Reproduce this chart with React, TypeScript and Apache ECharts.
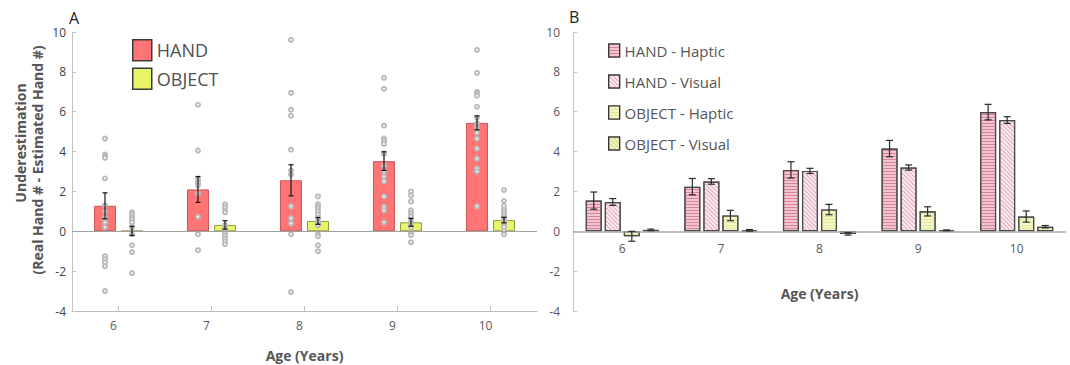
import React, { useEffect, useRef } from "react";
import * as echarts from "echarts";

// ---------- DATA ----------
const categories = ["6", "7", "8", "9", "10"];

// Panel A means and SEM
const handA = [1.28, 2.1, 2.56, 3.52, 5.44];
const handAErr = [0.65, 0.65, 0.78, 0.47, 0.35];
const objectA = [0.02, 0.32, 0.52, 0.45, 0.56];
const objectAErr = [0.23, 0.21, 0.17, 0.2, 0.14];

// Panel A individual participants
const handPoints6 = [4.65, 3.85, 3.78, 3.68, 2.65, 1.3, 1.0, 0.7, 0.45, 0.2, -1.25, -1.4, -1.55, -1.75, -3.0];
const handPoints7 = [6.35, 4.05, 2.6, 2.45, 2.3, 1.9, 0.73, -0.15, -0.95];
const handPoints8 = [9.6, 6.95, 6.1, 5.8, 4.1, 3.05, 2.85, 1.25, 0.65, 0.4, -0.15, -3.05];
const handPoints9 = [7.7, 7.15, 5.3, 4.65, 4.52, 4.38, 3.9, 3.3, 3.0, 2.75, 2.5, 1.75, 1.23, 1.05, 0.45];
const handPoints10 = [9.1, 7.95, 7.0, 6.9, 6.8, 6.25, 5.7, 5.4, 5.2, 4.95, 4.65, 4.15, 3.65, 3.15, 3.0, 1.25];
const objectPoints6 = [0.95, 0.85, 0.7, 0.6, 0.45, 0.2, -0.15, -0.7, -1.05, -2.1];
const objectPoints7 = [1.35, 1.2, 1.05, 0.95, 0.3, 0.1, -0.05, -0.2, -0.35, -0.5, -0.65];
const objectPoints8 = [1.75, 1.35, 1.25, 1.15, 1.0, 0.85, 0.65, 0.45, 0.3, -0.15, -0.25, -0.7, -1.0];
const objectPoints9 = [2.0, 1.8, 1.5, 1.05, 0.9, 0.75, 0.55, 0.35, 0.2, -0.1, -0.2, -0.55];
const objectPoints10 = [2.07, 1.52, 1.27, 1.07, 0.93, 0.8, 0.67, 0.52, 0.35, 0.22, 0.02, -0.15];
const handPoints = [handPoints6, handPoints7, handPoints8, handPoints9, handPoints10];
const objectPoints = [objectPoints6, objectPoints7, objectPoints8, objectPoints9, objectPoints10];

// Panel B means and SEM
const handHaptic = [1.54, 2.24, 3.08, 4.15, 5.98];
const handHapticErr = [0.43, 0.41, 0.41, 0.41, 0.39];
const handVisual = [1.47, 2.5, 3.03, 3.2, 5.58];
const handVisualErr = [0.17, 0.14, 0.13, 0.13, 0.17];
const objectHaptic = [-0.25, 0.79, 1.09, 1.0, 0.74];
const objectHapticErr = [0.25, 0.26, 0.26, 0.23, 0.28];
const objectVisual = [0.07, 0.05, -0.13, 0.05, 0.23];
const objectVisualErr = [0.04, 0.04, 0.06, 0.02, 0.06];

// ---------- STYLE ----------
const FONT = "'Open Sans', sans-serif";
const TXT = "#555";

function errData(means: number[], errs: number[]) {
  return means.map((m, i) => [i, m - errs[i], m + errs[i]]);
}
function pointData(groups: number[][]) {
  const out: number[][] = [];
  groups.forEach((g, i) => g.forEach((v) => out.push([i, v])));
  return out;
}
function errSeries(name: string, axis: number, data: number[][], offset: number, cap: number, color: string, width: number) {
  return {
    name,
    type: "custom",
    xAxisIndex: axis,
    yAxisIndex: axis,
    z: 5,
    silent: true,
    encode: { x: 0, y: [1, 2] },
    data,
    renderItem: (_p: any, api: any) => {
      const lo = api.coord([api.value(0), api.value(1)]);
      const hi = api.coord([api.value(0), api.value(2)]);
      const cx = lo[0] + offset;
      const st = { stroke: color, lineWidth: width };
      return {
        type: "group",
        children: [
          { type: "line", shape: { x1: cx, y1: lo[1], x2: cx, y2: hi[1] }, style: st },
          { type: "line", shape: { x1: cx - cap, y1: hi[1], x2: cx + cap, y2: hi[1] }, style: st },
          { type: "line", shape: { x1: cx - cap, y1: lo[1], x2: cx + cap, y2: lo[1] }, style: st },
        ],
      };
    },
  };
}

const hDecal = (color: string, gap: number) => ({
  symbol: "rect",
  symbolSize: 1,
  dashArrayX: [1, 0],
  dashArrayY: [1, gap],
  rotation: 0,
  color,
});
const dDecal = (color: string, gap: number) => ({
  symbol: "rect",
  symbolSize: 1,
  dashArrayX: [1, 0],
  dashArrayY: [1, gap],
  rotation: Math.PI / 4,
  color,
});

const yAxisCommon = {
  type: "value",
  min: -4,
  max: 10,
  interval: 2,
  splitLine: { show: false },
  axisLine: { show: true, lineStyle: { color: "#c4c4c4", width: 1 } },
  axisTick: { show: true, inside: true, length: 4, lineStyle: { color: "#c4c4c4" } },
};

const zeroLine = (color: string, width: number) => ({
  silent: true,
  symbol: ["none", "none"],
  label: { show: false },
  lineStyle: { color, width, type: "solid" },
  data: [{ yAxis: 0 }],
});

const pointStyle = { color: "#bababa", borderWidth: 0.7, opacity: 1 };

const option: any = {
  animation: false,
  textStyle: { fontFamily: FONT },
  grid: [
    { left: 72, right: 533, top: 32, bottom: 54, outerBoundsMode: "none" },
    { left: 573, right: 4, top: 32, bottom: 54, outerBoundsMode: "none" },
    { left: 573, right: 4, top: 32, bottom: 133, outerBoundsMode: "none" },
  ],
  legend: [
    {
      data: ["HAND", "OBJECT"],
      orient: "vertical",
      left: 127,
      top: 34,
      icon: "rect",
      itemWidth: 19,
      itemHeight: 21,
      itemGap: 6,
      itemStyle: { borderColor: "#3a3a3a", borderWidth: 1.5 },
      textStyle: { fontSize: 18, color: "#505050", fontFamily: FONT },
    },
    {
      data: ["HAND - Haptic", "HAND - Visual", "OBJECT - Haptic", "OBJECT - Visual"],
      orient: "vertical",
      left: 603,
      top: 38,
      icon: "rect",
      itemWidth: 11,
      itemHeight: 13,
      itemGap: 16,
      itemStyle: { borderColor: "#333", borderWidth: 1.2 },
      textStyle: { fontSize: 15, color: TXT, fontFamily: FONT },
    },
  ],
  xAxis: [
    {
      type: "category",
      gridIndex: 0,
      data: categories,
      axisLine: { onZero: false, lineStyle: { color: "#bdbdbd" } },
      axisTick: { show: true, inside: true, alignWithLabel: true, length: 5, lineStyle: { color: "#bdbdbd" } },
      axisLabel: { fontSize: 12, color: "#595959", margin: 8, padding: [0, 10, 0, 0] },
      name: "Age (Years)",
      nameLocation: "middle",
      nameGap: 37,
      nameTextStyle: { fontSize: 14, fontWeight: "bold", color: TXT },
    },
    {
      type: "category",
      gridIndex: 1,
      data: categories,
      show: false,
    },
    {
      type: "category",
      gridIndex: 2,
      data: categories,
      axisLine: { show: false, onZero: false },
      axisTick: { show: false },
      axisLabel: { fontSize: 12, color: "#595959", margin: 10 },
      name: "Age (Years)",
      nameLocation: "middle",
      nameGap: 54,
      nameTextStyle: { fontSize: 14, fontWeight: "bold", color: TXT },
    },
  ],
  yAxis: [
    { ...yAxisCommon, gridIndex: 0, axisLabel: { fontSize: 12, color: "#404040", margin: 6 } },
    { ...yAxisCommon, gridIndex: 1, axisLabel: { fontSize: 12, color: "#595959", margin: 13 } },
    { type: "value", gridIndex: 2, min: 0, max: 1, show: false },
  ],
  graphic: [
    { type: "text", left: 69, top: 10, style: { text: "A", fontSize: 16, fill: "#222", fontFamily: FONT } },
    { type: "text", left: 569, top: 9, style: { text: "B", fontSize: 16, fill: "#222", fontFamily: FONT } },
    {
      type: "text",
      x: 20,
      y: 143,
      rotation: Math.PI / 2,
      style: { text: "Underestimation", fontSize: 14, fontWeight: "bold", fill: TXT, align: "center", verticalAlign: "middle", fontFamily: FONT },
    },
    {
      type: "text",
      x: 37,
      y: 160,
      rotation: Math.PI / 2,
      style: { text: "(Real Hand # - Estimated Hand #)", fontSize: 14, fontWeight: "bold", fill: TXT, align: "center", verticalAlign: "middle", fontFamily: FONT },
    },
  ],
  series: [
    // Panel A bars
    {
      name: "HAND",
      type: "bar",
      xAxisIndex: 0,
      yAxisIndex: 0,
      data: handA,
      barWidth: 22,
      barGap: "23%",
      z: 2,
      itemStyle: { color: "#FF7474", borderColor: "#C95656", borderWidth: 1 },
      markLine: zeroLine("#a0a0a0", 1),
    },
    {
      name: "OBJECT",
      type: "bar",
      xAxisIndex: 0,
      yAxisIndex: 0,
      data: objectA,
      barWidth: 22,
      barGap: "23%",
      z: 2,
      itemStyle: { color: "#E8F56C", borderColor: "#8F9A42", borderWidth: 1 },
    },
    {
      name: "handPts",
      type: "scatter",
      xAxisIndex: 0,
      yAxisIndex: 0,
      data: pointData(handPoints),
      symbol: "emptyCircle",
      symbolSize: 4,
      symbolOffset: [-13.5, 0],
      z: 4,
      silent: true,
      itemStyle: pointStyle,
    },
    {
      name: "objPts",
      type: "scatter",
      xAxisIndex: 0,
      yAxisIndex: 0,
      data: pointData(objectPoints),
      symbol: "emptyCircle",
      symbolSize: 4,
      symbolOffset: [13.5, 0],
      z: 4,
      silent: true,
      itemStyle: pointStyle,
    },
    errSeries("errHandA", 0, errData(handA, handAErr), -13.5, 2.5, "#151515", 1.2),
    errSeries("errObjA", 0, errData(objectA, objectAErr), 13.5, 2.5, "#151515", 1.2),

    // Panel B bars
    {
      name: "HAND - Haptic",
      type: "bar",
      xAxisIndex: 1,
      yAxisIndex: 1,
      data: handHaptic,
      barWidth: 16,
      barGap: "19%",
      itemStyle: { color: "#F2C6D1", borderColor: "#4a4a4a", borderWidth: 1.2, decal: hDecal("#D98399", 2) },
      markLine: zeroLine("#a8a8a8", 1.5),
    },
    {
      name: "HAND - Visual",
      type: "bar",
      xAxisIndex: 1,
      yAxisIndex: 1,
      data: handVisual,
      barWidth: 16,
      barGap: "19%",
      itemStyle: { color: "#FBEDF1", borderColor: "#4a4a4a", borderWidth: 1.2, decal: dDecal("#E3A5B5", 2) },
    },
    {
      name: "OBJECT - Haptic",
      type: "bar",
      xAxisIndex: 1,
      yAxisIndex: 1,
      data: objectHaptic,
      barWidth: 16,
      barGap: "19%",
      itemStyle: { color: "#F4F7C4", borderColor: "#4a4a4a", borderWidth: 1.2, decal: hDecal("#E3E69E", 2) },
    },
    {
      name: "OBJECT - Visual",
      type: "bar",
      xAxisIndex: 1,
      yAxisIndex: 1,
      data: objectVisual,
      barWidth: 16,
      barGap: "19%",
      itemStyle: { color: "#F1F4B8", borderColor: "#4a4a4a", borderWidth: 1.2, decal: dDecal("#D6DA8E", 2) },
    },
    errSeries("errHH", 1, errData(handHaptic, handHapticErr), -28.56, 3.5, "#2a2a2a", 1.2),
    errSeries("errHV", 1, errData(handVisual, handVisualErr), -9.52, 3.5, "#2a2a2a", 1.2),
    errSeries("errOH", 1, errData(objectHaptic, objectHapticErr), 9.52, 3.5, "#2a2a2a", 1.2),
    errSeries("errOV", 1, errData(objectVisual, objectVisualErr), 28.56, 3.5, "#2a2a2a", 1.2),
  ],
};

export default function App() {
  const ref = useRef<HTMLDivElement>(null);
  useEffect(() => {
    if (!ref.current) return;
    const chart = echarts.init(ref.current, null, { renderer: "svg" });
    chart.setOption(option);
    return () => chart.dispose();
  }, []);
  return (
    <div
      ref={ref}
      style={{ position: "absolute", left: 0, top: 0, width: 1070, height: 365, background: "#fff" }}
    />
  );
}
